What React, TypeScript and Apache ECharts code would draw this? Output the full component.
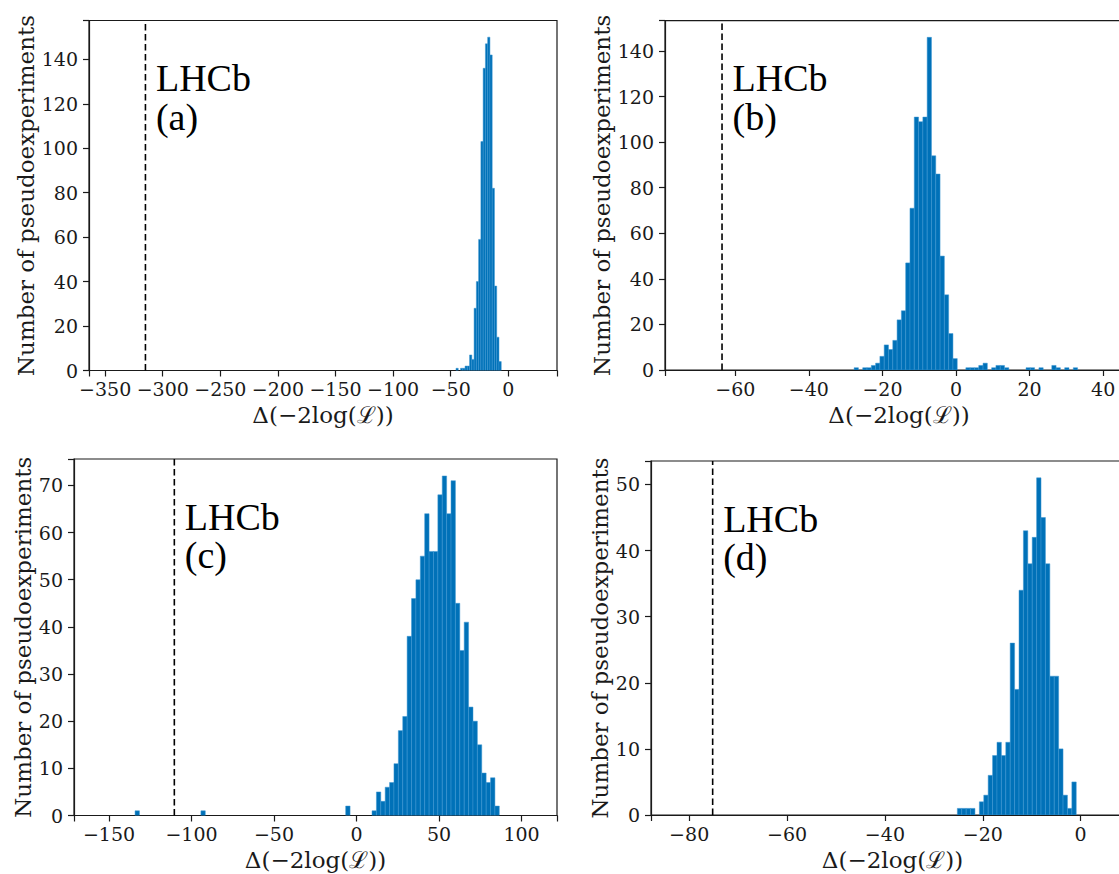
import React, { useEffect, useRef } from 'react';
import * as echarts from 'echarts';

// ---------- data ----------
const panelTags = ['(a)', '(b)', '(c)', '(d)'];
const yTitle = 'Number of pseudoexperiments';
const xTitle = 'Δ(−2log(ℒ))';
const experimentLabel = 'LHCb';

// (a)
const aFirstEdge = -45.4;
const aBinWidth = 1.965;
const aCounts = [1, 0, 1, 1, 2, 2, 7, 5, 28, 40, 59, 103, 136, 147, 150, 142, 82, 38, 15, 4];
const aIsolated: number[][] = [];
const aObserved = -315;
const aXRange = [-364, 42.3];
const aYMax = 157.5;

// (b)
const bFirstEdge = -27.7;
const bBinWidth = 1.168;
const bCounts = [
  1, 0, 1, 1, 2, 3,
  6, 11, 9, 13, 22, 26, 47, 71, 111, 109, 111, 146, 94, 86, 50, 33, 16, 5,
  0, 0, 1, 1, 1, 2, 3, 0, 1, 2, 2, 1, 0, 0, 0, 0, 1, 1, 0, 1, 0, 0, 2, 1, 0, 1, 0, 1,
];
const bIsolated: number[][] = [];
const bObserved = -63.6;
const bXRange = [-79.1, 48.1];
const bYMax = 153.3;

// (c)
const cFirstEdge = 9.4;
const cBinWidth = 2.66;
const cCounts = [1, 5, 3, 6, 7, 11, 18, 21, 38, 46, 50, 55, 64, 56, 56, 68, 72, 64, 71, 45, 35, 41, 23, 20, 15, 9, 7, 8, 2];
// isolated bins: [left edge, count]
const cIsolated = [[-134.2, 1], [-94.3, 1], [-6.56, 2]];
const cObserved = -110.4;
const cXRange = [-171.2, 121.5];
const cYMax = 75.6;

// (d)
const dFirstEdge = -25.2;
const dBinWidth = 0.9;
const dCounts = [1, 1, 1, 1, 0, 2, 3, 6, 9, 11, 9, 11, 26, 19, 34, 43, 38, 42, 51, 45, 38, 21, 21, 10, 3, 1, 5];
const dIsolated: number[][] = [];
const dObserved = -75.2;
const dXRange = [-87.8, 10.9];
const dYMax = 53.55;

const xTickSteps = [50, 20, 50, 20];
const yTickSteps = [20, 20, 10, 10];

// ---------- layout ----------
const grids = [
  { left: 89, top: 20.5, width: 468, height: 350 },
  { left: 665, top: 20.7, width: 468, height: 349.3 },
  { left: 74, top: 459, width: 483, height: 356.5 },
  { left: 651, top: 461, width: 483, height: 354 },
];
const xSplit = [8, 6, 6, 5];
const ySplit = [8, 8, 8, 5];
const yNameGaps = [51, 51, 37, 39];

const SERIF = 'DejaVu Serif';
const INK = '#1a1a1a';
const BAR = '#0071b8';

function fmt(step: number) {
  return (v: number) => {
    const r = v / step;
    if (Math.abs(r - Math.round(r)) > 1e-6) return '';
    const n = Math.round(v);
    return n < 0 ? '\u2212' + Math.abs(n) : String(n);
  };
}

function bins(first: number, w: number, counts: number[], isolated: number[][]) {
  const out: number[][] = [];
  counts.forEach((c, i) => {
    if (c > 0) out.push([first + i * w, first + (i + 1) * w, c]);
  });
  isolated.forEach(([l, c]) => out.push([l, l + w, c]));
  return out;
}

const panels = [
  { bins: bins(aFirstEdge, aBinWidth, aCounts, aIsolated), obs: aObserved, xr: aXRange, yMax: aYMax },
  { bins: bins(bFirstEdge, bBinWidth, bCounts, bIsolated), obs: bObserved, xr: bXRange, yMax: bYMax },
  { bins: bins(cFirstEdge, cBinWidth, cCounts, cIsolated), obs: cObserved, xr: cXRange, yMax: cYMax },
  { bins: bins(dFirstEdge, dBinWidth, dCounts, dIsolated), obs: dObserved, xr: dXRange, yMax: dYMax },
];

export default function App() {
  const ref = useRef<HTMLDivElement>(null);
  useEffect(() => {
    if (!ref.current) return;
    const chart = echarts.init(ref.current, null, { renderer: 'svg' });
    const option: any = {
      animation: false,
      backgroundColor: '#fff',
      grid: grids.map((g) => ({
        ...g,
        show: true,
        borderColor: INK,
        borderWidth: 1.2,
        backgroundColor: 'transparent',
        containLabel: false,
        outerBoundsMode: 'none',
      })),
      xAxis: panels.map((p, i) => ({
        type: 'value',
        gridIndex: i,
        min: p.xr[0],
        max: p.xr[1],
        splitNumber: xSplit[i],
        splitLine: { show: false },
        axisLine: { show: true, onZero: false, lineStyle: { color: INK, width: 1.2 } },
        axisTick: { show: true, length: 6, lineStyle: { color: INK, width: 1.2 } },
        axisLabel: {
          fontFamily: SERIF,
          fontSize: 19,
          color: INK,
          margin: 9,
          formatter: fmt(xTickSteps[i]),
          hideOverlap: false,
        },
        name: xTitle,
        nameLocation: 'middle',
        nameGap: 33,
        nameTextStyle: { fontFamily: SERIF, fontSize: 23, color: INK },
      })),
      yAxis: panels.map((p, i) => ({
        type: 'value',
        gridIndex: i,
        min: 0,
        max: p.yMax,
        splitNumber: ySplit[i],
        splitLine: { show: false },
        axisLine: { show: true, onZero: false, lineStyle: { color: INK, width: 1.2 } },
        axisTick: { show: true, length: 6, lineStyle: { color: INK, width: 1.2 } },
        axisLabel: {
          fontFamily: SERIF,
          fontSize: 19,
          color: INK,
          margin: 11,
          formatter: fmt(yTickSteps[i]),
        },
        name: yTitle,
        nameLocation: 'middle',
        nameRotate: 90,
        nameGap: yNameGaps[i],
        nameTextStyle: { fontFamily: SERIF, fontSize: 23, color: INK },
      })),
      series: [
        ...panels.map((p, i) => ({
          type: 'custom',
          xAxisIndex: i,
          yAxisIndex: i,
          clip: true,
          silent: true,
          encode: { x: [0, 1], y: 2 },
          data: p.bins,
          renderItem: (params: any, api: any) => {
            const p0 = api.coord([api.value(0), api.value(2)]);
            const p1 = api.coord([api.value(1), 0]);
            return {
              type: 'rect',
              shape: { x: p0[0], y: p0[1], width: p1[0] - p0[0], height: p1[1] - p0[1] },
              style: { fill: BAR, stroke: '#3d97d3', lineWidth: 0.5 },
            };
          },
        })),
        ...panels.map((p, i) => ({
          type: 'line',
          xAxisIndex: i,
          yAxisIndex: i,
          silent: true,
          symbol: 'none',
          showSymbol: false,
          data: [[p.obs, 0], [p.obs, p.yMax]],
          lineStyle: { color: '#000', width: 1.6, type: [6.5, 3.5] },
          z: 5,
        })),
      ],
    };
    chart.setOption(option);

    const graphics: any[] = [];
    panels.forEach((p, i) => {
      const px = chart.convertToPixel({ xAxisIndex: i } as any, p.obs) as unknown as number;
      const top = grids[i].top;
      graphics.push({
        type: 'text',
        x: px + 10.5,
        y: top + 38.5,
        style: { text: experimentLabel, fontSize: 38, fontFamily: 'Liberation Serif', fill: '#000', verticalAlign: 'top' },
      });
      graphics.push({
        type: 'text',
        x: px + 10.5,
        y: top + 77,
        style: { text: panelTags[i], fontSize: 38, fontFamily: 'Liberation Serif', fill: '#000', verticalAlign: 'top' },
      });
    });
    chart.setOption({ graphic: graphics });

    return () => chart.dispose();
  }, []);
  return (
    <div
      ref={ref}
      style={{ position: 'absolute', left: 0, top: 0, width: 1119, height: 874 }}
    />
  );
}
